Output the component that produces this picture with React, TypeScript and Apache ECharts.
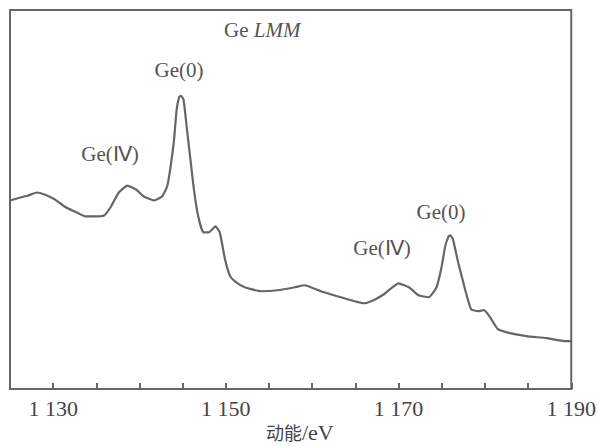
import React, { useEffect, useRef } from "react";
import * as echarts from "echarts";

// Kinetic energy (eV) and relative intensity (arbitrary units)
const energy = [
  1125.0, 1126.2, 1127.1, 1128.1, 1129.0, 1130.2, 1131.3, 1132.5, 1133.8, 1134.8,
  1135.9, 1136.7, 1137.6, 1138.6, 1139.6, 1140.5, 1141.7, 1142.6, 1143.2, 1143.6,
  1144.0, 1144.3, 1144.6, 1144.8, 1145.1, 1145.5, 1145.9, 1146.3, 1146.8, 1147.4, 1148.0,
  1148.8, 1149.3, 1149.9, 1150.5, 1151.2, 1152.2, 1154.1, 1156.0, 1158.0, 1159.1,
  1161.0, 1162.9, 1164.9, 1166.0, 1167.1, 1168.3, 1170.0, 1171.2, 1172.3, 1173.5,
  1174.4, 1175.0, 1175.4, 1175.8, 1176.0, 1176.3, 1176.9, 1177.7, 1178.4, 1179.2, 1179.9,
  1180.6, 1181.5, 1182.9, 1184.8, 1187.1, 1189.4, 1190.0,
];
const intensity = [
  189, 192, 194, 197, 195, 190, 183, 178, 173, 173,
  174, 183, 197, 204, 200, 193, 189, 193, 203, 223,
  250, 280, 293, 294, 290, 260, 230, 200, 173, 157, 157,
  163, 157, 130, 113, 107, 102, 98, 99, 102, 104,
  98, 93, 88, 86, 89, 95, 106, 102, 94, 92,
  102, 123, 143, 153, 154, 150, 127, 100, 80, 78, 79,
  72, 60, 56, 53, 51, 48, 48,
];
const tickLabels = [1130, 1150, 1170, 1190];
const annotations = [
  { text: "Ge(0)", x: 179, y: 70 },
  { text: "Ge(Ⅳ)", x: 110, y: 154 },
  { text: "Ge(0)", x: 441, y: 212 },
  { text: "Ge(Ⅳ)", x: 382, y: 248 },
];
const axisNameCJK = "动能";
const axisNameUnit = "/eV";

const SERIF = "Liberation Serif";
const CJK = "Noto Sans CJK SC";
const GREY = "#666666";

export default function App() {
  const ref = useRef<HTMLDivElement>(null);
  useEffect(() => {
    if (!ref.current) return;
    const chart = echarts.init(ref.current, null, { renderer: "svg" });
    const data = energy.map((e, i) => [e, intensity[i]]);
    chart.setOption({
      animation: false,
      backgroundColor: "#ffffff",
      grid: {
        left: 10,
        right: 24,
        top: 10,
        bottom: 57,
        show: true,
        borderColor: GREY,
        borderWidth: 2,
      },
      xAxis: {
        type: "value",
        min: 1125,
        max: 1190,
        interval: 5,
        axisLine: { show: true, lineStyle: { color: GREY, width: 2 } },
        axisTick: { show: true, inside: true, length: 6, lineStyle: { color: GREY, width: 2 } },
        splitLine: { show: false },
        axisLabel: {
          margin: 8,
          color: "#444",
          fontFamily: SERIF,
          fontSize: 22,
          showMinLabel: false,
          formatter: (v: number) =>
            tickLabels.includes(Math.round(v))
              ? String(Math.round(v)).replace(/^(\d)(\d{3})$/, "$1 $2")
              : "",
        },
      },
      yAxis: {
        type: "value",
        min: 0,
        max: 380,
        show: false,
        splitLine: { show: false },
      },
      series: [
        {
          type: "line",
          data,
          showSymbol: false,
          smooth: 0.15,
          lineStyle: { color: GREY, width: 2.2 },
        },
      ],
      graphic: [
        {
          type: "text",
          x: 224,
          y: 30,
          style: {
            text: "{a|Ge} {b|LMM}",
            rich: {
              a: { fontFamily: SERIF, fontSize: 21, color: "#555" },
              b: { fontFamily: SERIF, fontSize: 21, fontStyle: "italic", color: "#555" },
            },
            fontFamily: SERIF,
            fontSize: 21,
            fill: "#555",
            verticalAlign: "middle",
          },
        },
        ...annotations.map((a) => ({
          type: "text",
          x: a.x,
          y: a.y,
          style: {
            text: a.text,
            fontFamily: SERIF,
            fontSize: 21,
            fill: "#555",
            align: "center",
            verticalAlign: "middle",
          },
        })),
        {
          type: "text",
          x: 266,
          y: 432,
          style: {
            text: `{c|${axisNameCJK}}{d|${axisNameUnit}}`,
            rich: {
              c: { fontFamily: CJK, fontSize: 18, color: "#444", lineHeight: 22 },
              d: { fontFamily: SERIF, fontSize: 22, color: "#444", lineHeight: 22 },
            },
            fontFamily: SERIF,
            fontSize: 18,
            fill: "#444",
            verticalAlign: "middle",
          },
        },
      ],
    });
    return () => chart.dispose();
  }, []);
  return (
    <div
      ref={ref}
      style={{ position: "fixed", left: 0, top: 0, width: 599, height: 446 }}
    />
  );
}
